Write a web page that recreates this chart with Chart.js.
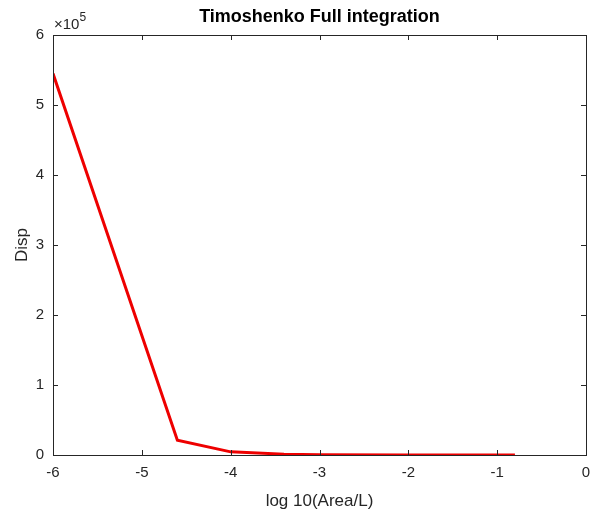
<!DOCTYPE html>
<html>
<head>
<meta charset="utf-8">
<script src="https://cdn.jsdelivr.net/npm/chart.js@4"></script>
<style>
  body { margin: 0; background: #fff; }
  #wrap { width: 593px; height: 512px; }
</style>
</head>
<body>
<div id="wrap"><canvas id="chart"></canvas></div>
<script>
// data
const logArea = [-6, -4.6, -4, -3.4, -3, -2, -1, -0.8];
const disp = [545000, 21000, 4500, 1200, 500, 100, 0, 0];
const xTicks = [-6, -5, -4, -3, -2, -1, 0];
const yTicks = [0, 1, 2, 3, 4, 5, 6];
const yExponent = 5;
const chartTitle = 'Timoshenko Full integration';

const axisColor = '#262626';
const font = 'Liberation Sans, Arial, Helvetica, sans-serif';

// MATLAB style box with inward ticks, title over the axes and the x10^5 label
const boxPlugin = {
    id: 'box',
    afterDraw(chart) {
        const ctx = chart.ctx;
        const a = chart.chartArea;
        const xs = chart.scales.x;
        const ys = chart.scales.y;
        ctx.save();
        ctx.strokeStyle = axisColor;
        ctx.lineWidth = 1;
        ctx.strokeRect(a.left + 0.5, a.top + 0.5, a.right - a.left, a.bottom - a.top);
        ctx.beginPath();
        xTicks.forEach(v => {
            const px = Math.round(xs.getPixelForValue(v)) + 0.5;
            ctx.moveTo(px, a.bottom); ctx.lineTo(px, a.bottom - 5);
            ctx.moveTo(px, a.top); ctx.lineTo(px, a.top + 5);
        });
        yTicks.forEach(v => {
            const py = Math.round(ys.getPixelForValue(v * Math.pow(10, yExponent))) + 0.5;
            ctx.moveTo(a.left, py); ctx.lineTo(a.left + 5, py);
            ctx.moveTo(a.right, py); ctx.lineTo(a.right - 5, py);
        });
        ctx.stroke();

        ctx.fillStyle = '#000';
        ctx.textAlign = 'center';
        ctx.textBaseline = 'middle';
        ctx.font = 'bold 18px ' + font;
        ctx.fillText(chartTitle, (a.left + a.right) / 2, 17);

        ctx.fillStyle = axisColor;
        ctx.textBaseline = 'alphabetic';
        ctx.textAlign = 'left';
        ctx.font = '15px ' + font;
        ctx.fillText('\u00d710', a.left + 1, a.top - 6);
        const w = ctx.measureText('\u00d710').width;
        ctx.font = '12px ' + font;
        ctx.fillText(String(yExponent), a.left + 1 + w, a.top - 14);
        ctx.restore();
    }
};

new Chart(document.getElementById('chart'), {
    type: 'scatter',
    data: {
        datasets: [{
            data: logArea.map((x, i) => ({ x: x, y: disp[i] })),
            showLine: true,
            borderColor: '#ee0000',
            borderWidth: 3,
            pointRadius: 0,
            tension: 0
        }]
    },
    options: {
        responsive: true,
        maintainAspectRatio: false,
        animation: false,
        layout: { padding: { top: 35, right: 0, left: 0, bottom: 0 } },
        plugins: {
            legend: { display: false },
            tooltip: { enabled: false },
            title: { display: false }
        },
        scales: {
            x: {
                type: 'linear',
                min: -6,
                max: 0,
                afterBuildTicks: s => { s.ticks = xTicks.map(v => ({ value: v })); },
                afterFit: s => { s.height = 57; s.paddingRight = 7; s.paddingLeft = 0; },
                grid: { display: false, drawTicks: false },
                border: { display: false },
                ticks: {
                    color: axisColor,
                    font: { family: font, size: 15 },
                    padding: 9,
                    maxRotation: 0
                },
                title: {
                    display: true,
                    text: 'log 10(Area/L)',
                    color: axisColor,
                    font: { family: font, size: 17 },
                    padding: { top: 2, bottom: 0 }
                }
            },
            y: {
                type: 'linear',
                min: 0,
                max: 6 * Math.pow(10, yExponent),
                afterBuildTicks: s => { s.ticks = yTicks.map(v => ({ value: v * Math.pow(10, yExponent) })); },
                afterFit: s => { s.width = 53; s.paddingTop = 0; s.paddingBottom = 0; },
                grid: { display: false, drawTicks: false },
                border: { display: false },
                ticks: {
                    color: axisColor,
                    font: { family: font, size: 15 },
                    padding: 9,
                    callback: v => String(Math.round(v / Math.pow(10, yExponent)))
                },
                title: {
                    display: true,
                    text: 'Disp',
                    color: axisColor,
                    font: { family: font, size: 17 },
                    padding: { top: 12, bottom: 0 }
                }
            }
        }
    },
    plugins: [boxPlugin]
});
</script>
</body>
</html>
